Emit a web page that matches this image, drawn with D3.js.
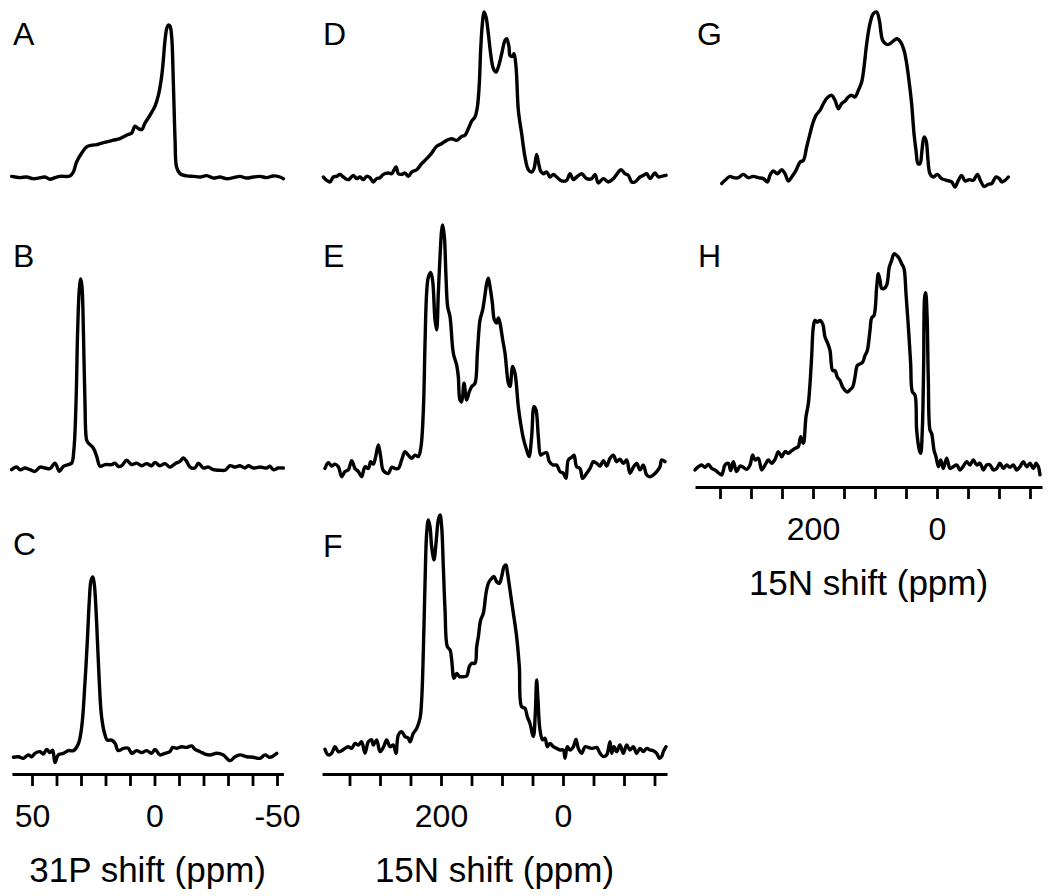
<!DOCTYPE html>
<html><head><meta charset="utf-8">
<script src="https://cdn.jsdelivr.net/npm/d3@7"></script>
<style>
body{margin:0;background:#fff}
svg{display:block}
text{font-family:"Liberation Sans",Arial,Helvetica,sans-serif;fill:#000}
</style>
</head><body>
<svg id="chart" width="1050" height="896"></svg>
<script>
// ---------- data (ppm, relative intensity %) ----------
const panelLabels = ["A","B","C","D","E","F","G","H"];
const p31Ticks = [50,40,30,20,10,0,-10,-20,-30,-40,-50];
const p31TickLabels = [50,0,-50];
const n15Ticks = [350,300,250,200,150,100,50,0,-50,-100,-150];
const n15TickLabels = [200,0];
const axisTitles = ["31P shift (ppm)","15N shift (ppm)","15N shift (ppm)"];

const spectrumA = [[58.3,0.4],[54.9,-0.4],[52.2,0],[49.5,-1.1],[47.4,-0.7],[44.7,0],[42.7,-1.5],[40.6,-0.4],[38.6,0.4],[34.5,0.7],[33.1,3.3],[31.8,9.9],[29.7,15.8],[27.7,19.8],[25.6,20.9],[23.6,21.3],[22.2,22.0],[19.5,23.1],[16.8,24.2],[14.1,25.3],[11.4,27.5],[9.3,29.0],[8.0,33.4],[6.6,31.9],[5.2,31.2],[3.9,35.4],[1.8,40.7],[-0.2,46.6],[-1.6,53.8],[-2.9,65.9],[-3.6,76.9],[-4.3,90.1],[-5.0,97.8],[-5.6,100],[-6.3,99.3],[-7.0,92.3],[-7.7,61.5],[-8.4,24.2],[-9.0,6.6],[-10.4,2.2],[-13.1,0.7],[-15.9,0.4],[-18.6,0],[-21.3,0.9],[-24.0,-0.7],[-26.7,0],[-29.5,-1.1],[-32.2,-0.4],[-34.9,0.4],[-37.6,-0.7],[-40.3,0],[-43.1,0.4],[-45.8,-0.4],[-48.5,0.7],[-51.2,0],[-52.6,-1.1]];

const spectrumB = [[58.3,-0.9],[56.3,0.5],[54.9,-0.9],[52.9,0],[50.8,-0.9],[48.8,-1.8],[46.7,0.5],[44.7,0],[42.7,-0.4],[40.6,2.6],[38.8,-1.8],[37.2,0.9],[35.2,1.8],[33.8,2.6],[32.9,9.7],[32.0,36.0],[31.4,71.3],[30.7,94.2],[30.1,100],[29.6,96.1],[29.0,71.3],[28.4,36.0],[27.7,14.8],[27.0,13.2],[25.0,10.6],[23.6,6.2],[22.2,0.9],[20.2,1.8],[17.5,1.8],[16.1,2.6],[14.8,0.9],[13.4,1.2],[11.4,4.1],[9.3,1.8],[7.3,2.6],[5.2,1.2],[3.2,2.3],[1.2,1.2],[-0.2,3.0],[-2.2,1.2],[-4.3,2.3],[-6.3,0.5],[-8.4,2.3],[-10.4,3.5],[-11.8,5.3],[-13.1,3.5],[-14.5,0.5],[-16.5,0],[-17.9,2.6],[-19.9,0],[-22.0,0.5],[-24.0,-0.9],[-26.7,-1.2],[-28.8,-1.2],[-30.8,1.2],[-32.9,0.5],[-34.9,1.2],[-36.9,0],[-38.3,1.2],[-40.3,0],[-43.1,0.5],[-45.8,0],[-47.1,0.9],[-48.5,-0.9],[-50.5,0],[-52.6,0]];

const spectrumC = [[57.6,-0.7],[55.6,-0.4],[53.5,-1.3],[51.5,0.6],[50.1,-0.4],[48.8,1.5],[46.7,2.4],[45.4,1.1],[44.0,3.7],[42.7,1.9],[41.6,3.3],[40.6,-3.7],[39.3,0.6],[37.2,1.5],[35.2,3.0],[33.1,3.0],[31.1,6.7],[29.7,16.4],[28.4,40.5],[27.4,64.7],[26.6,87.0],[25.9,98.1],[25.2,100],[24.6,96.3],[23.6,74.0],[22.7,46.1],[21.6,21.9],[20.2,11.7],[19.3,8.9],[17.5,8.9],[16.1,7.1],[14.8,3.0],[12.7,4.3],[10.7,4.3],[9.3,1.5],[7.3,3.0],[5.2,1.9],[3.2,3.0],[1.2,1.5],[-0.2,3.7],[-2.2,0.6],[-4.3,1.5],[-6.3,2.4],[-7.4,4.8],[-9.0,4.3],[-11.1,5.2],[-13.1,4.8],[-15.2,5.6],[-16.5,3.7],[-18.6,2.4],[-20.6,1.1],[-22.7,0.6],[-25.4,1.5],[-28.1,0.6],[-30.8,-2.6],[-32.9,-0.4],[-34.9,0.6],[-37.6,-0.4],[-40.3,-0.7],[-43.1,-1.3],[-45.1,0.6],[-47.1,-0.7],[-49.9,1.5]];

const spectrumD = [[392.9,0],[387.4,-2.0],[382.0,-3.0],[376.5,0],[371.0,0.4],[365.6,1.6],[360.1,0],[351.9,-1.6],[343.7,1.0],[338.3,-1.0],[332.8,0],[327.3,-1.6],[321.9,0.4],[316.4,-0.4],[310.9,-3.0],[305.5,-1.0],[300.0,-0.4],[294.5,1.6],[286.3,2.4],[280.9,2.0],[273.8,6.1],[269.9,2.0],[264.5,1.6],[259.0,2.4],[253.6,0.4],[248.1,3.0],[239.9,4.4],[231.7,8.1],[223.5,11.1],[215.3,14.5],[207.1,18.6],[198.9,20.2],[190.7,22.2],[182.5,23.2],[174.3,22.2],[166.1,24.6],[160.7,25.3],[155.2,29.3],[149.7,33.9],[144.3,36.4],[140.4,42.4],[137.2,56.6],[135.0,76.8],[132.2,92.9],[129.5,100],[126.2,97.0],[122.4,86.9],[118.6,74.7],[114.2,65.7],[109.8,63.6],[106.0,66.7],[100.5,74.7],[95.1,82.8],[92.3,83.8],[88.5,78.8],[86.9,73.7],[83.1,73.1],[80.3,74.7],[77.0,66.7],[73.2,40.4],[67.8,26.3],[62.3,12.1],[56.8,4.4],[51.4,3.0],[47.5,5.1],[43.2,13.7],[39.9,8.1],[36.6,3.6],[32.2,2.0],[26.8,3.0],[21.3,0],[15.8,1.6],[10.4,0],[2.2,-2.4],[-6.0,-2.0],[-11.5,2.0],[-16.9,-1.6],[-22.4,0],[-30.6,2.0],[-38.8,-1.0],[-47.0,-1.0],[-52.5,1.6],[-57.9,-3.6],[-66.1,-1.0],[-74.3,-3.0],[-82.5,-1.0],[-88.0,1.6],[-95.1,4.4],[-101.6,2.0],[-107.1,1.0],[-112.6,-3.0],[-118.0,-3.0],[-126.2,0],[-131.7,1.0],[-137.2,2.0],[-142.6,-1.0],[-150.8,2.4],[-156.3,0],[-161.7,0.4],[-168.9,1.0]];

const spectrumE = [[390.2,-0.6],[384.7,1.8],[379.2,0.4],[373.8,1.2],[368.3,0.1],[362.8,-4.0],[357.4,-1.9],[351.9,-1.2],[346.4,2.6],[341.0,-0.6],[335.5,-1.9],[330.1,-4.0],[324.6,0.1],[319.1,-0.6],[315.3,2.2],[310.9,1.2],[307.1,4.3],[302.7,9.1],[298.9,4.3],[294.5,-1.5],[286.3,-2.6],[280.9,-0.1],[275.4,-0.6],[269.9,-0.6],[264.5,2.9],[259.0,6.3],[253.6,4.9],[248.1,3.6],[242.6,4.9],[237.2,4.3],[232.8,8.4],[228.9,23.6],[226.2,51.1],[223.5,72.2],[220.8,78.4],[216.9,80.4],[213.7,77.0],[209.8,60.7],[207.1,56.6],[204.4,71.8],[201.6,87.0],[198.9,97.9],[197.3,100],[194.5,95.2],[191.8,78.6],[189.1,66.3],[185.2,62.1],[179.8,47.0],[174.3,42.1],[171.6,37.3],[168.9,27.7],[166.1,26.9],[162.3,34.6],[157.9,27.7],[153.6,31.1],[149.7,33.2],[144.3,34.6],[140.4,47.0],[136.1,60.7],[131.7,64.9],[127.9,71.1],[125.1,75.9],[122.4,78.0],[119.7,74.6],[115.8,67.8],[112.6,60.9],[108.7,59.5],[106.0,61.6],[103.3,59.5],[98.9,52.6],[95.1,47.1],[89.6,34.7],[86.9,33.3],[82.5,41.6],[78.7,38.8],[73.2,24.8],[69.4,18.0],[65.0,11.8],[59.6,7.0],[55.7,4.3],[51.4,12.5],[47.5,24.9],[44.3,23.6],[40.4,12.5],[36.6,4.9],[32.2,5.6],[26.8,5.9],[22.4,2.2],[15.8,0.8],[10.4,0.8],[4.9,-1.9],[-0.5,-2.6],[-4.9,-4.7],[-8.7,2.9],[-14.2,4.0],[-18.0,4.9],[-22.4,0.1],[-27.9,-0.6],[-32.2,-4.7],[-38.8,-2.6],[-44.3,-0.6],[-49.7,2.2],[-55.2,1.5],[-60.7,0.4],[-66.1,2.6],[-71.6,0.4],[-77.0,3.6],[-82.5,4.9],[-88.0,2.2],[-93.4,3.2],[-98.9,1.5],[-104.4,2.9],[-109.8,-2.6],[-115.3,-0.1],[-120.8,1.5],[-126.2,-1.2],[-131.7,0.8],[-137.2,-3.3],[-142.6,-4.0],[-148.1,-3.3],[-153.6,-1.9],[-159.0,0.1],[-161.7,2.9],[-167.2,2.2]];

const spectrumF = [[390.2,0.3],[384.7,-2.1],[379.2,-1.4],[373.8,1.4],[368.3,-0.7],[362.8,-0.3],[357.4,0.7],[351.9,1.4],[346.4,0.7],[341.0,2.8],[335.5,2.1],[330.1,3.5],[324.6,-1.4],[319.1,3.5],[313.7,4.3],[310.9,2.1],[305.5,4.3],[300.0,-0.7],[294.5,1.1],[289.1,4.3],[283.6,1.4],[278.1,2.1],[273.8,-1.4],[269.9,6.4],[264.5,7.8],[259.0,5.7],[253.6,5.0],[250.8,3.5],[245.4,7.1],[239.9,9.2],[234.4,13.5],[231.7,21.3],[228.9,42.6],[226.2,70.9],[223.5,92.2],[220.8,97.9],[218.0,95.0],[215.3,86.5],[211.5,80.9],[208.2,88.0],[204.4,97.9],[201.6,100],[198.9,95.0],[196.2,78.0],[193.4,59.6],[189.6,44.0],[185.2,42.6],[182.5,38.3],[178.7,30.5],[174.3,32.6],[169.9,31.2],[166.1,31.2],[157.9,31.5],[153.6,35.5],[149.7,36.9],[144.3,36.9],[141.5,44.0],[138.8,48.2],[135.0,55.3],[130.6,58.2],[126.2,66.7],[122.4,70.9],[116.9,73.0],[113.1,73.8],[108.7,71.6],[104.4,70.9],[100.5,73.8],[96.7,78.0],[93.4,78.7],[91.3,75.9],[86.9,68.1],[81.4,58.2],[76.0,48.2],[71.6,35.5],[67.8,18.4],[62.3,17.7],[58.5,14.2],[54.1,11.3],[48.6,5.7],[45.4,15.6],[43.2,29.8],[41.0,21.3],[37.7,8.5],[33.3,4.3],[29.5,5.0],[25.7,1.4],[21.3,2.8],[15.8,1.4],[10.4,0.7],[4.9,0],[-0.5,0],[-3.3,-3.5],[-7.1,1.4],[-11.5,0],[-16.9,1.4],[-21.3,4.5],[-25.1,0.7],[-30.6,-1.4],[-36.1,1.4],[-41.5,1.1],[-48.6,0.7],[-55.2,1.1],[-60.7,-1.4],[-66.1,-2.8],[-71.6,-2.1],[-77.0,3.5],[-79.8,-1.4],[-83.6,1.4],[-88.0,-0.7],[-93.4,2.1],[-98.9,-1.4],[-104.4,2.1],[-109.8,0],[-115.3,1.4],[-120.8,-1.4],[-126.2,0.7],[-131.7,-0.7],[-137.2,0.7],[-142.6,0],[-148.1,-0.3],[-153.6,-1.4],[-158.0,-3.5],[-161.7,-2.8],[-164.5,-0.7],[-168.9,1.4]];

const spectrumG = [[347.3,-4.0],[341.9,-2.0],[333.9,0.4],[328.5,-0.4],[320.4,-0.4],[312.4,1.6],[304.3,-0.4],[296.2,0.4],[288.2,-0.4],[280.1,-1.0],[273.7,-3.0],[268.8,1.6],[264.0,3.6],[257.5,2.0],[250.5,4.4],[245.2,2.0],[239.8,-2.4],[234.4,0],[227.4,4.0],[220.8,9.1],[215.6,10.1],[210.2,18.2],[204.8,26.3],[200.5,32.3],[195.2,37.4],[188.7,40.4],[183.3,44.4],[176.9,48.1],[169.9,49.5],[164.5,46.5],[159.1,41.4],[153.8,44.4],[148.4,46.1],[143.0,48.5],[137.6,49.5],[132.3,48.5],[126.9,52.5],[121.5,57.6],[117.7,66.7],[113.4,80.8],[108.1,92.9],[102.7,99.0],[97.3,100],[93.0,94.9],[87.6,82.8],[81.2,80.4],[75.8,80.8],[69.4,82.8],[64.0,83.8],[58.6,81.8],[53.2,76.8],[48.9,68.7],[44.6,56.6],[40.9,44.4],[37.1,26.3],[33.9,16.2],[30.6,8.1],[27.4,8.1],[24.2,16.2],[21.0,24.2],[17.7,22.2],[14.5,10.1],[11.3,2.0],[5.9,0],[-0.5,1.6],[-7.5,-1.0],[-15.6,-2.0],[-23.7,-3.0],[-29.0,-6.1],[-34.4,-2.0],[-39.8,1.0],[-45.2,-2.4],[-52.2,-1.6],[-58.6,-2.0],[-65.1,1.6],[-70.4,-2.4],[-75.8,-5.7],[-82.8,-4.4],[-88.2,-4.0],[-95.2,0],[-100.5,-1.0],[-104.3,-3.0],[-109.7,-2.0],[-115.1,0]];

const spectrumH = [[390.3,-0.9],[384.9,0.6],[379.6,1.4],[374.2,0.3],[368.8,1.7],[363.4,-0.2],[358.1,-0.9],[352.7,-2.2],[347.3,-3.2],[341.9,1.4],[336.6,2.2],[332.8,-1.2],[328.5,2.9],[323.1,-1.7],[317.7,0.9],[312.4,0.3],[307.0,-0.6],[301.6,1.4],[297.3,6.0],[293.5,3.7],[288.2,4.5],[282.8,-0.9],[277.4,1.4],[272.0,3.7],[266.7,2.2],[261.3,4.0],[255.9,7.6],[250.5,5.2],[245.2,7.6],[239.8,6.8],[234.4,8.0],[229.0,9.1],[223.7,9.9],[219.9,14.5],[215.6,11.4],[211.3,23.7],[207.5,29.9],[204.8,39.1],[202.2,51.4],[199.5,65.2],[196.8,68.3],[193.0,67.5],[188.7,68.3],[184.4,66.7],[180.6,60.6],[176.9,58.2],[172.6,54.4],[168.3,45.1],[164.5,45.1],[160.8,42.1],[156.5,40.5],[152.2,37.5],[148.4,36.0],[144.6,35.2],[140.3,36.2],[136.0,37.5],[132.3,42.1],[128.5,47.5],[124.2,48.2],[119.9,49.0],[116.1,52.1],[112.4,54.4],[108.1,63.6],[105.4,69.5],[101.6,70.6],[97.3,83.8],[94.6,90.0],[91.9,86.9],[89.2,83.1],[85.5,83.1],[81.2,84.6],[76.9,93.1],[73.1,96.1],[69.4,99.2],[65.1,98.5],[60.8,96.9],[57.0,94.6],[53.2,92.3],[50.0,80.7],[46.2,65.3],[42.5,48.4],[39.8,35.3],[35.5,33.8],[32.8,17.6],[28.5,8.3],[26.3,6.8],[23.7,17.6],[21.5,48.4],[19.9,79.2],[18.3,81.2],[16.1,71.2],[14.0,40.4],[11.3,17.6],[8.6,16.0],[4.8,8.3],[1.6,5.2],[-2.2,0.6],[-5.9,3.7],[-10.2,-0.2],[-15.6,4.5],[-21.0,-0.2],[-26.3,0.6],[-31.7,1.4],[-37.1,-0.9],[-42.5,0.9],[-47.8,2.9],[-53.2,1.4],[-58.6,3.7],[-64.0,1.4],[-69.4,2.2],[-74.7,-0.9],[-80.1,1.4],[-85.5,1.4],[-90.9,-0.9],[-96.2,-0.2],[-101.6,2.2],[-107.0,-0.2],[-112.4,1.4],[-117.7,0.3],[-123.1,1.4],[-128.5,-0.9],[-133.9,0.6],[-139.2,2.9],[-144.6,0.6],[-150.0,2.2],[-155.4,-0.2],[-159.7,2.2],[-163.4,0.6],[-166.1,-3.2]];

// ---------- layout ----------
const svg = d3.select("#chart");
const FONT_TICK = 32, FONT_TITLE = 35, FONT_LETTER = 32;

const columns = [
  { x: d3.scaleLinear().domain([50,-50]).range([32,277]), extent:[58.2,-52.6], ticks:p31Ticks, labels:p31TickLabels, title:axisTitles[0], axisY:774 },
  { x: d3.scaleLinear().domain([200,0]).range([441,563]), extent:[395,-170.5], ticks:n15Ticks, labels:n15TickLabels, title:axisTitles[1], axisY:774 },
  { x: d3.scaleLinear().domain([200,0]).range([813,937]), extent:[390.3,-169.4], ticks:n15Ticks, labels:n15TickLabels, title:axisTitles[2], axisY:487 }
];

const panels = [
  { label:panelLabels[0], data:spectrumA, col:0, base:177, top:25,  lx:13,  ly:45 },
  { label:panelLabels[1], data:spectrumB, col:0, base:468, top:279, lx:13,  ly:267 },
  { label:panelLabels[2], data:spectrumC, col:0, base:756, top:577, lx:13,  ly:555 },
  { label:panelLabels[3], data:spectrumD, col:1, base:177, top:12,  lx:323, ly:45 },
  { label:panelLabels[4], data:spectrumE, col:1, base:467, top:225, lx:323, ly:267 },
  { label:panelLabels[5], data:spectrumF, col:1, base:750, top:515, lx:323, ly:557 },
  { label:panelLabels[6], data:spectrumG, col:2, base:177, top:12,  lx:697, ly:45 },
  { label:panelLabels[7], data:spectrumH, col:2, base:468, top:252, lx:698, ly:267 }
];

panels.forEach(p => {
  const x = columns[p.col].x;
  const y = d3.scaleLinear().domain([0,100]).range([p.base, p.top]);
  const line = d3.line().x(d => x(d[0])).y(d => y(d[1])).curve(d3.curveCatmullRom.alpha(0.5));
  svg.append("path").datum(p.data).attr("d", line)
    .attr("fill","none").attr("stroke","#000").attr("stroke-width",3.4)
    .attr("stroke-linejoin","round").attr("stroke-linecap","round");
  svg.append("text").attr("x", p.lx).attr("y", p.ly)
    .attr("font-size", FONT_LETTER).text(p.label);
});

columns.forEach(c => {
  const s = c.x.copy().domain(c.extent).range(c.extent.map(c.x));
  const axis = d3.axisBottom(s).tickValues(c.ticks).tickSize(12).tickSizeOuter(0)
    .tickPadding(18).tickFormat(d => c.labels.includes(d) ? String(d) : "");
  const g = svg.append("g").attr("transform", `translate(0,${c.axisY})`).call(axis);
  g.select(".domain").attr("stroke","#000").attr("stroke-width",2.8);
  g.selectAll(".tick line").attr("stroke","#000").attr("stroke-width",2.8);
  g.selectAll(".tick text").attr("font-size", FONT_TICK)
    .attr("font-family","'Liberation Sans',Arial,Helvetica,sans-serif").attr("fill","#000");
  const mid = (s.range()[0] + s.range()[1]) / 2;
  svg.append("text").attr("x", mid).attr("y", c.axisY + 108)
    .attr("text-anchor","middle").attr("font-size", FONT_TITLE).text(c.title);
});
</script>
</body></html>
